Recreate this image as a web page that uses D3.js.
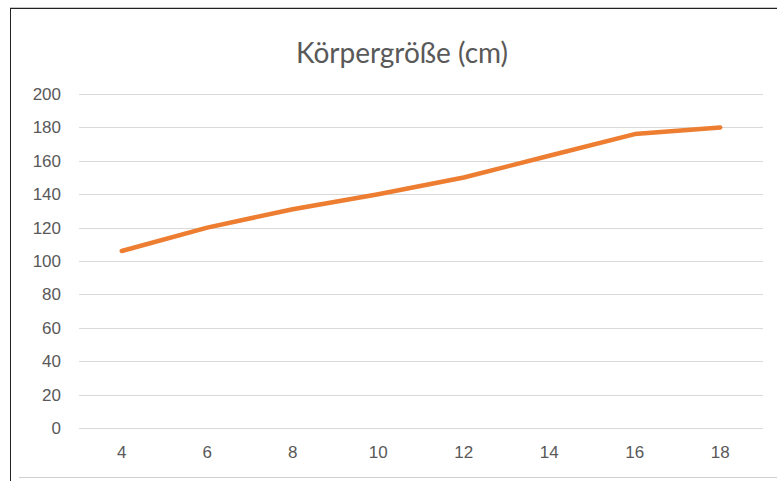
<!DOCTYPE html>
<html lang="de">
<head>
    <meta charset="UTF-8">
    <title>Körpergröße</title>
    <style>
        body { margin: 0; background: #fff; }
        svg { display: block; font-family: Lato, "Open Sans", sans-serif; }
    </style>
</head>
<body>
    <script src="https://d3js.org/d3.v7.min.js"></script>
    <script>
        // Daten
        var title = "Körpergröße (cm)";
        var ages = ["4", "6", "8", "10", "12", "14", "16", "18"];
        var heights = [106, 120, 131, 140, 150, 163, 176, 180];
        var yTicks = [0, 20, 40, 60, 80, 100, 120, 140, 160, 180, 200];

        var w = 777, h = 481;
        var plot = {left: 79, right: 763, top: 94, bottom: 428};

        var svg = d3.select("body")
            .append("svg")
            .attr("width", w)
            .attr("height", h);

        // Rahmen
        svg.append("line")
            .attr("x1", 10).attr("x2", w).attr("y1", 7.5).attr("y2", 7.5)
            .attr("stroke", "#c8c8c8");
        svg.append("line")
            .attr("x1", 10).attr("x2", w).attr("y1", 8.5).attr("y2", 8.5)
            .attr("stroke", "#222");
        svg.append("line")
            .attr("x1", 10.5).attr("x2", 10.5).attr("y1", 8).attr("y2", h)
            .attr("stroke", "#222");
        svg.append("line")
            .attr("x1", 19).attr("x2", w).attr("y1", 477.5).attr("y2", 477.5)
            .attr("stroke", "#d0d0d0");

        var xScale = d3.scaleBand()
            .domain(ages)
            .range([plot.left, plot.right]);

        var yScale = d3.scaleLinear()
            .domain([0, 200])
            .range([plot.bottom, plot.top]);

        // Gitterlinien
        svg.append("g")
            .selectAll("line")
            .data(yTicks)
            .enter()
            .append("line")
            .attr("x1", plot.left)
            .attr("x2", plot.right)
            .attr("y1", function(d) { return Math.round(yScale(d)) + 0.5; })
            .attr("y2", function(d) { return Math.round(yScale(d)) + 0.5; })
            .attr("stroke", "#d9d9d9")
            .attr("stroke-width", 1);

        // y-Achse
        var yAxis = d3.axisLeft(yScale)
            .tickValues(yTicks)
            .tickSize(0)
            .tickPadding(0);
        var gy = svg.append("g")
            .attr("transform", "translate(61,0)")
            .call(yAxis);
        gy.select(".domain").remove();
        gy.selectAll("text")
            .attr("fill", "#595959")
            .style("font-size", "17px");

        // x-Achse
        var xAxis = d3.axisBottom(xScale).tickSize(0).tickPadding(0);
        var gx = svg.append("g")
            .attr("transform", "translate(0,446)")
            .call(xAxis);
        gx.select(".domain").remove();
        gx.selectAll("text")
            .attr("fill", "#595959")
            .style("font-size", "17px");

        // Linie
        var line = d3.line()
            .x(function(d, i) { return xScale(ages[i]) + xScale.bandwidth() / 2; })
            .y(function(d) { return yScale(d); });

        svg.append("path")
            .datum(heights)
            .attr("d", line)
            .attr("fill", "none")
            .attr("stroke", "#ED7D31")
            .attr("stroke-width", 4.5)
            .attr("stroke-linecap", "round")
            .attr("stroke-linejoin", "round");

        // Titel
        svg.append("text")
            .attr("x", 402)
            .attr("y", 63)
            .attr("text-anchor", "middle")
            .attr("fill", "#595959")
            .style("font-size", "28px")
            .text(title);
    </script>
</body>
</html>
